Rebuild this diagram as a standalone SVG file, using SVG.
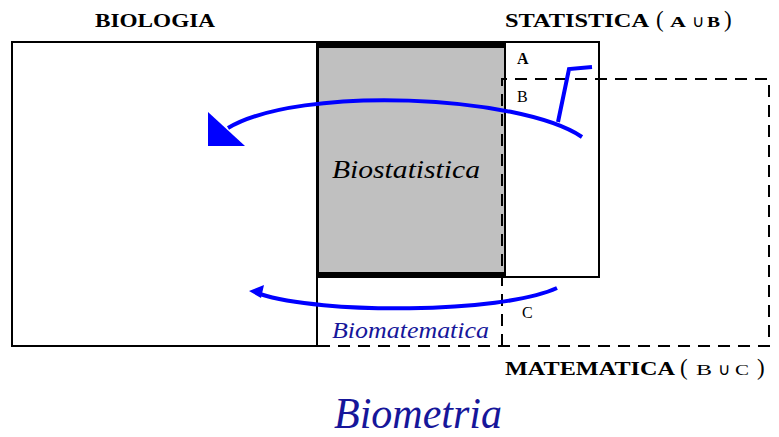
<svg xmlns="http://www.w3.org/2000/svg" width="779" height="437" viewBox="0 0 779 437">
<style>
.frame{fill:none;stroke:#000;stroke-width:2}
.dash{fill:none;stroke:#000;stroke-width:2;stroke-dasharray:12,8}
.cap{font-family:"Liberation Serif",serif;font-weight:bold;fill:#000}
.lbl{font-family:"Liberation Serif",serif;fill:#000}
.script{font-family:"Liberation Serif",serif;font-style:italic}
.arc{fill:none;stroke:#0000ff;stroke-width:4}
.par{font-size:23px;font-weight:normal}
.sc{font-size:14px}
.cup{font-size:17px;font-weight:normal}
</style>
<rect width="779" height="437" fill="#fff"/>
<g id="biologia">
<rect class="frame" x="12" y="42" width="305" height="304"/>
<text class="cap" x="95" y="27" font-size="18" textLength="120" lengthAdjust="spacingAndGlyphs">BIOLOGIA</text>
</g>
<g id="statistica">
<rect class="frame" x="317" y="42" width="282" height="235"/>
<text class="cap" x="505" y="27" font-size="19"><tspan textLength="144" lengthAdjust="spacingAndGlyphs">STATISTICA</tspan><tspan class="par" x="656">(</tspan><tspan class="sc" x="670" textLength="16" lengthAdjust="spacingAndGlyphs">A</tspan><tspan class="cup" x="692">∪</tspan><tspan class="sc" x="707" textLength="13" lengthAdjust="spacingAndGlyphs">B</tspan><tspan class="par" x="724">)</tspan></text>
<text class="lbl" x="517" y="64" font-size="16" font-weight="bold">A</text>
<text class="lbl" x="517" y="102" font-size="16">B</text>
</g>
<g id="biostatistica">
<rect x="318" y="45" width="187" height="230" fill="#c0c0c0" stroke="#000" stroke-width="2"/>
<rect x="317" y="42" width="189" height="6" fill="#000"/>
<rect x="317" y="272" width="189" height="5" fill="#000"/>
<text class="script" x="332" y="178" font-size="26" fill="#000" textLength="148" lengthAdjust="spacingAndGlyphs">Biostatistica</text>
</g>
<g id="matematica">
<path class="dash" d="M318,346 H769 V79 H502 V346"/>
<text class="cap" x="505" y="375" font-size="19"><tspan textLength="170" lengthAdjust="spacingAndGlyphs">MATEMATICA</tspan><tspan class="par" x="680">(</tspan><tspan class="sc" x="696" font-size="15" font-weight="normal" textLength="16" lengthAdjust="spacingAndGlyphs">B</tspan><tspan class="cup" x="718">∪</tspan><tspan class="sc" x="735" font-size="15" font-weight="normal" textLength="14" lengthAdjust="spacingAndGlyphs">C</tspan><tspan class="par" x="757">)</tspan></text>
<text class="lbl" x="522" y="318" font-size="16">C</text>
</g>
<g id="biomatematica">
<text class="script" x="332" y="338" font-size="24" fill="#16169a" textLength="157" lengthAdjust="spacingAndGlyphs">Biomatematica</text>
</g>
<g id="biometria">
<text class="script" x="334" y="428" font-size="44" fill="#16169a" textLength="168" lengthAdjust="spacingAndGlyphs">Biometria</text>
</g>
<g id="connectors">
<path class="arc" d="M582,137 C520,95 300,85 228,128"/>
<polygon points="208,112 208,146 245,146" fill="#0000ff"/>
<path class="arc" d="M558,122 L569,69 L592,67"/>
<path class="arc" d="M557,288 C500,314 320,314 260,294" stroke-width="3.5"/>
<polygon points="249,291 264,285 261,298" fill="#0000ff"/>
</g>
</svg>
